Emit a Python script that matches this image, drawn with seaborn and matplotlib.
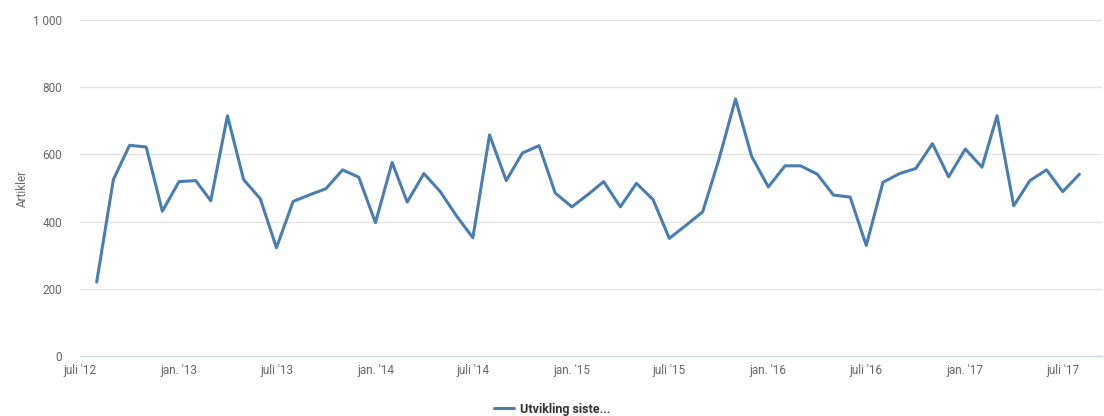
import pandas as pd
import seaborn as sns
import matplotlib.pyplot as plt
from matplotlib.ticker import FuncFormatter

# maaneder fra aug 2012 til aug 2017
months = pd.date_range('2012-08-01', '2017-08-01', freq='MS')

artikler = [220, 525, 627, 622, 431, 519, 522, 462, 715, 525, 468,
            322, 460, 480, 498, 554, 532,
            397, 576, 458, 543, 490, 416, 352, 658, 522, 604, 626, 485,
            444, 482, 519, 444, 514, 465, 350, 389, 429, 584, 765, 594,
            503, 566, 566, 541, 479, 473, 329, 517, 543, 558, 632, 533,
            616, 562, 715, 447, 522, 554, 489, 541]

series_name = 'Utvikling siste...'
month_names = {1: 'jan.', 7: 'juli'}

df = pd.DataFrame({'dato': months, 'artikler': artikler})

sns.set_style('white')
plt.rcParams['font.family'] = ['Roboto', 'DejaVu Sans']

fig = plt.figure(figsize=(11.04, 4.16), dpi=100)
ax = fig.add_axes([80 / 1104, 60 / 416, 1022 / 1104, 336 / 416])

sns.lineplot(data=df, x='dato', y='artikler', ax=ax, color='#4a7db0',
             linewidth=2.2, label=series_name, legend=False)

ax.set_ylim(0, 1000)
ax.set_yticks([0, 200, 400, 600, 800, 1000])
ax.yaxis.set_major_formatter(FuncFormatter(lambda v, p: f'{int(v):,}'.replace(',', ' ')))
ax.set_xlim(pd.Timestamp('2012-07-01'), pd.Timestamp('2017-09-12'))

ticks = pd.date_range('2012-07-01', '2017-07-01', freq='6MS')
ax.set_xticks(ticks)
ax.set_xticklabels([f"{month_names[t.month]} '{t.year % 100:02d}" for t in ticks])

ax.grid(axis='y', color='#e3e3e3', linewidth=1)
ax.set_axisbelow(True)
for s in ['top', 'right', 'left']:
    ax.spines[s].set_visible(False)
ax.spines['bottom'].set_color('#ccd6eb')
ax.spines['bottom'].set_linewidth(1)

ax.tick_params(axis='y', length=0, pad=13, labelsize=8.5, labelcolor='#666666')
ax.tick_params(axis='x', length=0, pad=6, labelsize=8.5, labelcolor='#666666')

ax.set_xlabel('')
ax.set_ylabel('Artikler', fontsize=8.5, color='#666666', labelpad=3)

handles, labels = ax.get_legend_handles_labels()
fig.legend(handles, labels, loc='center', bbox_to_anchor=(0.5, 7 / 416),
           frameon=False, handlelength=1.6, handletextpad=0.5,
           prop={'weight': 'bold', 'size': 9}, labelcolor='#333333')

plt.savefig('out.png', dpi=100)
